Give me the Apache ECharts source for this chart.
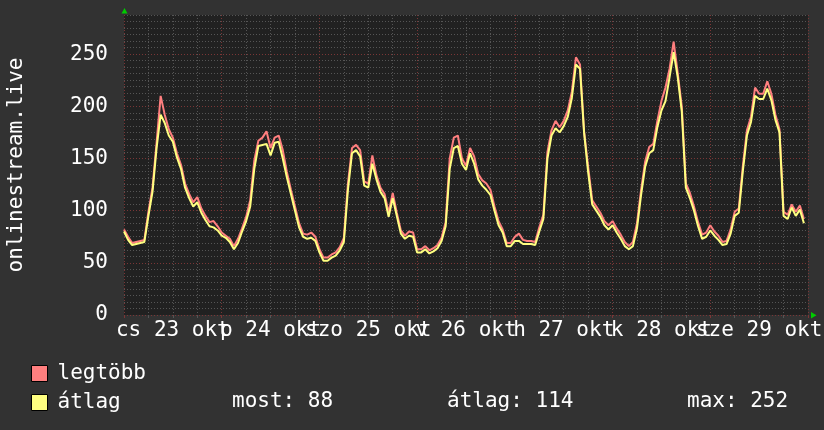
<!DOCTYPE html>
<html><head><meta charset="utf-8">
<script src="https://cdn.jsdelivr.net/npm/echarts@6/dist/echarts.min.js"></script>
<style>html,body{margin:0;padding:0;background:#323232;}#c{width:824px;height:430px;}</style>
</head><body><div id="c"></div>
<script>
// hourly samples, hour 0 = cs 23 okt 00:00
const seriesNames = ['legtöbb', 'átlag'];
const maxValues = [
  82,75,69,70,71,72,99,122,165,210,192,178,170,155,144,126,116,108,113,102,95,89,90,85,
  79,76,73,66,73,83,94,110,148,167,170,176,160,170,172,158,137,120,104,88,78,77,79,75,
  63,55,55,58,60,65,74,126,160,163,158,128,126,153,134,122,116,98,117,98,81,76,80,79,
  63,63,66,62,64,67,74,89,150,170,172,150,143,160,152,135,129,126,120,104,90,82,69,69,
  75,78,72,71,71,70,84,96,156,177,186,180,186,196,214,247,240,176,142,110,104,98,90,86,
  90,83,77,70,66,70,88,120,147,161,164,186,205,218,236,262,232,200,126,117,104,89,77,79,
  86,80,76,70,71,82,99,102,143,177,190,218,212,212,224,212,192,178,99,96,106,99,105,92
];
const avgValues = [
  80,72,67,68,69,70,95,118,160,192,184,172,166,151,140,122,112,104,108,98,91,85,84,81,
  76,74,70,63,69,80,90,104,140,162,163,164,153,165,166,150,132,116,100,84,75,73,74,71,
  60,52,52,55,57,62,70,120,155,158,152,124,122,145,130,118,112,94,112,95,78,73,76,75,
  60,60,63,59,61,64,71,85,140,160,162,145,139,155,145,130,124,120,115,100,86,79,66,66,
  71,71,68,68,68,67,80,92,150,172,179,175,181,190,208,240,236,175,137,106,100,94,86,82,
  86,79,73,66,63,66,83,115,142,155,158,180,196,205,228,252,228,195,122,112,100,85,73,75,
  81,76,72,67,68,78,95,98,138,172,185,210,207,207,217,206,187,175,95,92,103,95,101,88
];
const dayLabels = ['cs 23 okt', 'p 24 okt', 'szo 25 okt', 'v 26 okt', 'h 27 okt', 'k 28 okt', 'sze 29 okt'];
const statLabels = ['most: 88', 'átlag: 114', 'max: 252'];
const yTitle = 'onlinestream.live';

const FONT = 'DejaVu Sans Mono';
const FS = 21;
const GRAY = '#555555';
const RED = '#7a3636';
const G = {left: 124, right: 16, top: 15, bottom: 115};
const YMAX = 287.5;

const chart = echarts.init(document.getElementById('c'), null, {renderer: 'canvas'});
const toPairs = arr => arr.map((v, i) => [i, v]);

const redColors = [RED, RED, RED, RED, RED, RED, 'rgba(0,0,0,0)'];

chart.setOption({
  animation: false,
  backgroundColor: '#323232',
  grid: {left: G.left, right: G.right, top: G.top, bottom: G.bottom, show: true, backgroundColor: '#212121', borderWidth: 0,
    containLabel: false, outerBoundsMode: 'none'},
  xAxis: [
    {type: 'value', min: 0, max: 168, interval: 6, position: 'bottom',
      axisLine: {show: false},
      axisTick: {show: true, length: 3, lineStyle: {color: GRAY}},
      splitLine: {show: true, lineStyle: {color: GRAY, type: [1, 2], width: 1}},
      axisLabel: {show: true, margin: 5, color: '#ffffff', fontFamily: FONT, fontSize: FS, hideOverlap: false,
        formatter: v => (v % 24 === 12 ? dayLabels[(v - 12) / 24] : '')}
    },
    {type: 'value', min: 0, max: 168, interval: 24, position: 'bottom', offset: 0,
      axisLine: {show: false},
      axisTick: {show: true, length: 3, lineStyle: {color: RED}},
      splitLine: {show: true, lineStyle: {color: RED, type: [1, 2], width: 1}},
      axisLabel: {show: false}
    }
  ],
  yAxis: [
    {type: 'value', min: 0, max: YMAX, interval: 6.25, position: 'left',
      axisLine: {show: false}, axisTick: {show: false}, axisLabel: {show: false},
      splitLine: {show: true, lineStyle: {color: GRAY, type: [1, 2], width: 1}}
    },
    {type: 'value', min: 0, max: YMAX, interval: 50, position: 'left',
      axisLine: {show: false}, axisTick: {show: false},
      splitLine: {show: true, lineStyle: {color: redColors, type: [1, 2], width: 1}},
      axisLabel: {show: true, margin: 16, color: '#ffffff', fontFamily: FONT, fontSize: FS,
        formatter: v => (v % 50 === 0 ? String(v) : '')},
      name: yTitle, nameLocation: 'middle', nameGap: 97, nameRotate: 90,
      nameTextStyle: {color: '#ffffff', fontFamily: FONT, fontSize: FS}
    }
  ],
  legend: {
    data: seriesNames, orient: 'vertical', left: 31, top: 363, padding: 0,
    itemWidth: 16, itemHeight: 16, itemGap: 8, icon: 'rect',
    itemStyle: {borderColor: '#000000', borderWidth: 1},
    textStyle: {color: '#ffffff', fontFamily: FONT, fontSize: FS, lineHeight: 16, padding: [0, 0, 0, 5]},
    selectedMode: false
  },
  series: [
    {name: seriesNames[0], type: 'line', xAxisIndex: 0, yAxisIndex: 1, data: toPairs(maxValues),
      showSymbol: false, symbol: 'none', color: '#ff7f7f', lineStyle: {width: 2, color: '#ff7f7f'}, z: 3},
    {name: seriesNames[1], type: 'line', xAxisIndex: 0, yAxisIndex: 1, data: toPairs(avgValues),
      showSymbol: false, symbol: 'none', color: '#ffff80', lineStyle: {width: 2, color: '#ffff80'}, z: 4}
  ],
  graphic: [
    {type: 'polygon', shape: {points: [[121.5, 13.5], [127.5, 13.5], [124.5, 8]]}, style: {fill: '#00cc00'}},
    {type: 'polygon', shape: {points: [[811, 312], [811, 318.5], [816.5, 315.2]]}, style: {fill: '#00cc00'}},
    {type: 'text', x: 232, y: 402, style: {text: statLabels[0], font: FS + 'px ' + FONT, fill: '#ffffff', verticalAlign: 'middle'}},
    {type: 'text', x: 447, y: 402, style: {text: statLabels[1], font: FS + 'px ' + FONT, fill: '#ffffff', verticalAlign: 'middle'}},
    {type: 'text', x: 687, y: 402, style: {text: statLabels[2], font: FS + 'px ' + FONT, fill: '#ffffff', verticalAlign: 'middle'}}
  ]
});
</script>
</body></html>
